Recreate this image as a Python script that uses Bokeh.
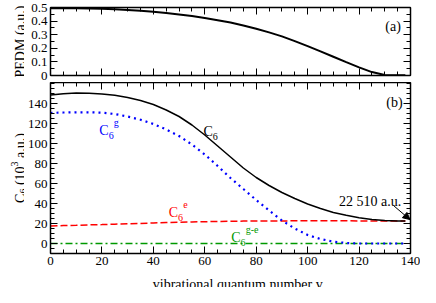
from math import pi
from bokeh.plotting import figure
from bokeh.models import (LinearAxis, FixedTicker, Range1d, Label, Arrow, NormalHead,
                          CustomJSTickFormatter)
from bokeh.core.properties import value
from bokeh.layouts import column, row
from bokeh.embed import file_html
from bokeh.resources import INLINE

# ---------------- data ----------------
v = [0, 5, 10, 15, 20, 25, 30, 35, 40, 45, 50, 55, 60, 65, 70, 75, 80, 85, 90, 95,
     100, 105, 110, 115, 120, 125, 130, 135, 138]
pedm = [0.495, 0.495, 0.494, 0.493, 0.491, 0.487, 0.482, 0.476, 0.468, 0.459, 0.449,
        0.437, 0.423, 0.407, 0.389, 0.368, 0.344, 0.317, 0.288, 0.253, 0.216, 0.177,
        0.138, 0.098, 0.060, 0.025, 0.004, 0.001, 0.002]
c6 = [148.5, 149.8, 150.4, 150.3, 149.6, 148.2, 146.0, 143.0, 139.0, 133.5, 127.0,
      118.5, 108.5, 97.5, 86.5, 75.5, 66.0, 58.0, 51.0, 45.0, 39.5, 35.0, 31.0, 28.2,
      25.8, 24.0, 23.1, 22.6, 22.51]
c6_g = [130.5, 131.0, 131.2, 131.2, 130.8, 129.5, 127.0, 123.8, 119.5, 114.0, 107.5,
        99.0, 89.0, 77.5, 65.5, 54.5, 43.5, 33.0, 23.0, 15.0, 8.5, 4.5, 1.8, 0.5,
        0.0, 0.0, 0.0, 0.0, 0.0]
c6_e = [17.5, 17.9, 18.2, 18.6, 18.9, 19.3, 19.7, 20.1, 20.5, 20.9, 21.2, 21.5, 21.8,
        22.0, 22.2, 22.4, 22.5, 22.55, 22.6, 22.65, 22.7, 22.7, 22.7, 22.65, 22.6,
        22.6, 22.55, 22.5, 22.5]
c6_ge = [0.0, 0.0, 0.0, 0.0, 0.0, 0.0, 0.0, 0.0, 0.0, 0.0, 0.0, 0.0, 0.0, 0.0, 0.0,
         0.0, 0.0, 0.0, 0.0, 0.0, 0.0, 0.0, 0.0, 0.0, 0.0, 0.0, 0.0, 0.0, 0.0]

x_ticks = [0, 20, 40, 60, 80, 100, 120, 140]
x_minor = list(range(0, 141, 5))
pedm_ticks = [0, 0.1, 0.2, 0.3, 0.4, 0.5]
pedm_minor = [0, 0.05, 0.1, 0.15, 0.2, 0.25, 0.3, 0.35, 0.4, 0.45, 0.5]
c6_ticks = [0, 20, 40, 60, 80, 100, 120, 140]
c6_minor = list(range(-10, 161, 5))

FONT = "'Liberation Serif'"
TICK_SIZE = "13px"
LAB_SIZE = "14px"
SUB_SIZE = "10px"

TOTAL_H = 287
YL_W = 24              # width of the strip holding the y titles
MAIN_W = 420 - YL_W
LEFT, RIGHT = 24, 10
H1, TOP1, BOT1 = 82, 7, 7
TOP2, BOT2 = 0, 18
XT_H = 16
H2 = TOTAL_H - H1 - XT_H


def make_axis(ticker, labels, formatter=None):
    ax = LinearAxis(ticker=ticker)
    if formatter is not None:
        ax.formatter = formatter
    ax.axis_line_color = "black"
    ax.axis_line_width = 1.5
    ax.major_tick_in = 7
    ax.major_tick_out = 0
    ax.minor_tick_in = 4
    ax.minor_tick_out = 0
    ax.major_tick_line_color = "black"
    ax.minor_tick_line_color = "black"
    ax.major_label_text_font = FONT
    ax.major_label_text_font_size = TICK_SIZE
    if labels:
        ax.major_label_text_color = "black"
        ax.major_label_standoff = 3
    else:
        ax.major_label_text_color = None
        ax.major_label_standoff = 0
    return ax


def lab(p, x, y, text, color="black", size=LAB_SIZE, dx=0, dy=0):
    p.add_layout(Label(x=x, y=y, x_units="data", y_units="data", text=text,
                       text_font=FONT, text_font_size=size, text_color=color,
                       x_offset=dx, y_offset=dy, text_align="left",
                       text_baseline="alphabetic"))


def c6_label(p, x, y, sup, color):
    lab(p, x, y, "C", color)
    lab(p, x, y, "6", color, size=SUB_SIZE, dx=9.3, dy=-5)
    if sup:
        lab(p, x, y, sup, color, size=SUB_SIZE, dx=14.5, dy=8)


def bare_fig(w, h, xr, yr, **kw):
    p = figure(width=w, height=h, x_range=xr, y_range=yr, x_axis_type=None,
               y_axis_type=None, output_backend="svg", toolbar_location=None,
               title=None, **kw)
    p.outline_line_color = None
    p.background_fill_color = "white"
    p.border_fill_color = "white"
    p.xgrid.visible = False
    p.ygrid.visible = False
    return p


# ---------------- top panel ----------------
p1 = bare_fig(MAIN_W, H1, Range1d(0, 140), Range1d(0, 0.5), min_border_left=LEFT,
              min_border_right=RIGHT, min_border_top=TOP1, min_border_bottom=BOT1)
fmt = CustomJSTickFormatter(code="return tick == 0 ? '0' : tick.toFixed(1);")
p1.add_layout(make_axis(FixedTicker(ticks=x_ticks, minor_ticks=x_minor), False), "below")
p1.add_layout(make_axis(FixedTicker(ticks=x_ticks, minor_ticks=x_minor), False), "above")
p1.add_layout(make_axis(FixedTicker(ticks=pedm_ticks, minor_ticks=pedm_minor), True, fmt), "left")
p1.add_layout(make_axis(FixedTicker(ticks=pedm_ticks, minor_ticks=pedm_minor), False), "right")
p1.line(v, pedm, line_color="black", line_width=2)
lab(p1, 130.2, 0.363, "(a)")

# ---------------- bottom panel ----------------
p2 = bare_fig(MAIN_W, H2, Range1d(0, 140), Range1d(-10, 161), min_border_left=LEFT,
              min_border_right=RIGHT, min_border_top=TOP2, min_border_bottom=BOT2)
p2.add_layout(make_axis(FixedTicker(ticks=x_ticks, minor_ticks=x_minor), True), "below")
p2.add_layout(make_axis(FixedTicker(ticks=x_ticks, minor_ticks=x_minor), False), "above")
p2.add_layout(make_axis(FixedTicker(ticks=c6_ticks, minor_ticks=c6_minor), True), "left")
p2.add_layout(make_axis(FixedTicker(ticks=c6_ticks, minor_ticks=c6_minor), False), "right")

p2.line(v, c6_ge, line_color="#009900", line_width=1.3, line_dash="7 3 2 3")
p2.line(v, c6_e, line_color="#ff0000", line_width=1.5, line_dash="7 3")
p2.line(v, c6_g, line_color="#0000ff", line_width=2.2, line_dash="2 4")
p2.line(v, c6, line_color="black", line_width=1.5)

c6_label(p2, 59.5, 112.5, None, "black")
c6_label(p2, 19.0, 113.0, "g", "#0000ff")
c6_label(p2, 46.0, 31.2, "e", "#ff0000")
c6_label(p2, 70.3, 5.7, "g-e", "#009900")
lab(p2, 112.2, 42.1, "22 510 a.u.")
lab(p2, 130.6, 141.2, "(b)")
p2.add_layout(Arrow(end=NormalHead(size=7, fill_color="black", line_color="black"),
                    x_start=133.6, y_start=37.5, x_end=139.8, y_end=23.9,
                    line_color="black", line_width=1))

# ---------------- x-axis title strip ----------------
xt = bare_fig(MAIN_W, XT_H, Range1d(0, MAIN_W), Range1d(0, XT_H), min_border=0)
xt.text(x=[(LEFT + MAIN_W - RIGHT) / 2 + 1], y=[3.2], text=["vibrational quantum number v"],
        text_font=value(FONT), text_font_size=LAB_SIZE, text_color="black",
        text_align="center", text_baseline="alphabetic")

# ---------------- y-axis titles strip ----------------
yl = bare_fig(YL_W, TOTAL_H, Range1d(0, YL_W), Range1d(0, TOTAL_H), min_border=0)
base_x = 20
pedm_c = TOTAL_H - (TOP1 + (H1 - TOP1 - BOT1) / 2)
yl.text(x=[base_x], y=[pedm_c], text=["PEDM (a.u.)"], angle=pi / 2,
        text_font=value(FONT), text_font_size=LAB_SIZE, text_color="black",
        text_align="center", text_baseline="alphabetic")

c6_c = TOTAL_H - (H1 + TOP2 + (H2 - TOP2 - BOT2) / 2)
# pieces of "C_6 (10^3 a.u.)": text, font size, baseline shift (px, + = down), advance (px)
pieces = [("C", LAB_SIZE, 0, 9.33), ("6", SUB_SIZE, 3, 8.5), ("(10", LAB_SIZE, 0, 18.67),
          ("3", SUB_SIZE, -6, 8.5), ("a.u.)", LAB_SIZE, 0, 24.9)]
total = sum(pc[3] for pc in pieces)
pos = c6_c - total / 2
for txt, size, shift, adv in pieces:
    yl.text(x=[base_x + shift], y=[pos], text=[txt], angle=pi / 2,
            text_font=value(FONT), text_font_size=size, text_color="black",
            text_align="left", text_baseline="alphabetic")
    pos += adv

layout = row(yl, column(p1, p2, xt))
open("out.html", "w").write(file_html(layout, INLINE))
